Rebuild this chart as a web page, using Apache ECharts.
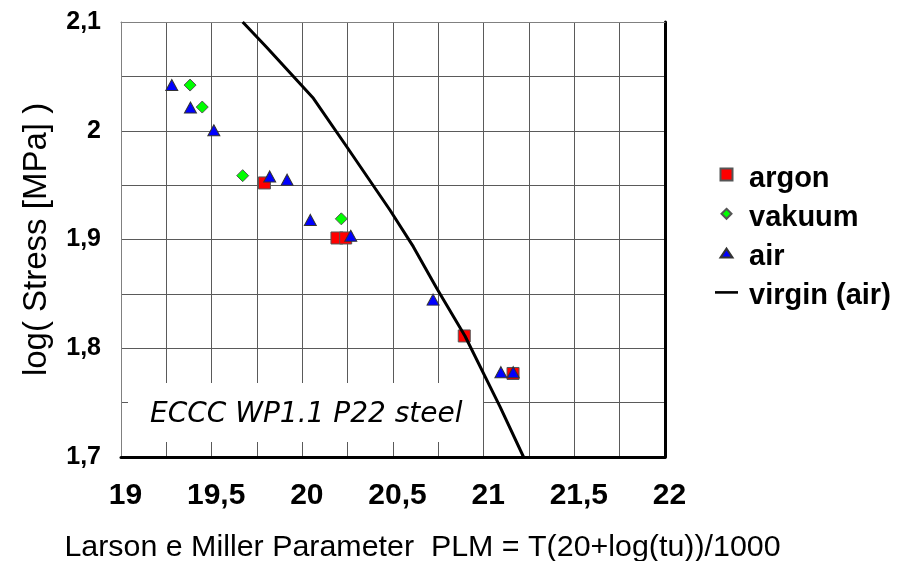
<!DOCTYPE html>
<html><head><meta charset="utf-8">
<script src="https://cdn.jsdelivr.net/npm/echarts@6/dist/echarts.min.js"></script>
<style>html,body{margin:0;padding:0;background:#fff}#c{width:913px;height:561px}</style>
</head><body><div id="c"></div>
<script>
// ---- data ----
const argonX = [19.791, 20.191, 20.239, 20.893, 21.162];
const argonY = [1.952, 1.9014, 1.9014, 1.8113, 1.7768];
const vakuumX = [19.381, 19.448, 19.671, 20.215];
const vakuumY = [2.042, 2.0218, 1.9587, 1.919];
const airX = [19.28, 19.383, 19.512, 19.82, 19.916, 20.044, 20.267, 20.721, 21.095, 21.163];
const airY = [2.042, 2.0214, 2.0005, 1.958, 1.955, 1.918, 1.9034, 1.8447, 1.778, 1.778];
const virginX = [19.671, 19.803, 20.061, 20.245, 20.483, 20.612, 20.741, 20.897, 21.09, 21.22];
const virginY = [2.1, 2.0767, 2.0298, 1.9853, 1.9271, 1.8934, 1.8551, 1.8113, 1.7463, 1.7];
const xTickLabels = ['19', '19,5', '20', '20,5', '21', '21,5', '22'];
const yTickLabels = ['1,7', '1,8', '1,9', '2', '2,1'];
const seriesNames = ['argon', 'vakuum', 'air', 'virgin (air)'];
const xTitle = 'Larson e Miller Parameter  PLM = T(20+log(tu))/1000';
const yTitle = 'log( Stress [MPa] )';
const noteText = 'ECCC WP1.1 P22 steel';

const zip = (a, b) => a.map((v, i) => [v, b[i]]);
const FONT = '"Liberation Sans", Arial, Helvetica, sans-serif';
const XMIN = 19, XMAX = 22, YMIN = 1.7, YMAX = 2.1;

function xLabel(v) {
  const k = (v - XMIN) / 0.5;
  if (Math.abs(k - Math.round(k)) > 1e-6) return '';
  return xTickLabels[Math.round(k)] || '';
}
function yLabel(v) {
  const k = (v - YMIN) / 0.1;
  if (Math.abs(k - Math.round(k)) > 1e-6) return '';
  return yTickLabels[Math.round(k)] || '';
}

const chart = echarts.init(document.getElementById('c'), null, {renderer: 'canvas'});
chart.setOption({
  animation: false,
  backgroundColor: '#fff',
  grid: {left: 121, right: 248, top: 22, bottom: 104, containLabel: false, outerBoundsMode: 'none'},
  xAxis: [{
    type: 'value', min: XMIN, max: XMAX, interval: 0.25,
    axisLine: {show: true, onZero: false, lineStyle: {color: '#000', width: 3}},
    axisTick: {show: false},
    splitLine: {show: true, lineStyle: {color: '#5a5a5a', width: 1}},
    axisLabel: {formatter: xLabel, fontSize: 30, fontWeight: 'bold', color: '#000', fontFamily: FONT, margin: 24, padding: [0, 0, 0, 9], showMinLabel: true, showMaxLabel: true},
    name: xTitle, nameLocation: 'middle', nameGap: 76,
    nameTextStyle: {fontSize: 30.4, color: '#000', fontFamily: FONT, padding: [0, 0, 0, 59]}
  }, {
    type: 'value', min: XMIN, max: XMAX, position: 'top',
    axisLine: {show: true, onZero: false, lineStyle: {color: '#808080', width: 1}},
    axisTick: {show: false}, axisLabel: {show: false}, splitLine: {show: false}
  }],
  yAxis: [{
    type: 'value', min: YMIN, max: YMAX, interval: 0.05,
    axisLine: {show: true, onZero: false, lineStyle: {color: '#808080', width: 1}},
    axisTick: {show: false},
    splitLine: {show: true, lineStyle: {color: '#5a5a5a', width: 1}},
    axisLabel: {formatter: yLabel, fontSize: 25, fontWeight: 'bold', color: '#000', fontFamily: FONT, margin: 20, showMinLabel: true, showMaxLabel: true},
    name: yTitle, nameLocation: 'middle', nameGap: 68, nameRotate: 90,
    nameTextStyle: {fontSize: 33, color: '#000', fontFamily: FONT}
  }, {
    type: 'value', min: YMIN, max: YMAX, position: 'right',
    axisLine: {show: true, onZero: false, lineStyle: {color: '#000', width: 3}},
    axisTick: {show: false}, axisLabel: {show: false}, splitLine: {show: false}
  }],
  legend: {
    orient: 'vertical', left: 710, top: 159, itemWidth: 23, itemHeight: 20, itemGap: 10.3,
    textStyle: {fontSize: 29, fontWeight: 'bold', color: '#000', fontFamily: FONT, padding: [0, 0, 0, 6]},
    data: [
      {name: seriesNames[0], icon: 'path://M0,0M12,20M0,0L12,0L12,12L0,12Z'},
      {name: seriesNames[1], icon: 'path://M0,0M12,20M6,1L11,6L6,11L1,6Z'},
      {name: seriesNames[2], icon: 'path://M0,0M12,20M6,1.5L12,10.5L0,10.5Z'},
      {name: seriesNames[3], icon: 'path://M0,0M23,20M0,4.7L23,4.7L23,7.3L0,7.3Z', itemStyle: {color: '#000', borderWidth: 0}}
    ]
  },
  series: [
    {name: seriesNames[0], type: 'scatter', symbol: 'rect', symbolSize: 12, data: zip(argonX, argonY),
     itemStyle: {color: '#ff0000', borderColor: '#555', borderWidth: 1, opacity: 1}, emphasis: {disabled: true}},
    {name: seriesNames[1], type: 'scatter', symbol: 'diamond', symbolSize: 12, data: zip(vakuumX, vakuumY),
     itemStyle: {color: '#00ff00', borderColor: '#555', borderWidth: 1, opacity: 1}, emphasis: {disabled: true}},
    {name: seriesNames[2], type: 'scatter', symbol: 'triangle', symbolSize: [12, 11], data: zip(airX, airY),
     itemStyle: {color: '#0000ff', borderColor: '#333', borderWidth: 1, opacity: 1}, emphasis: {disabled: true}},
    {name: seriesNames[3], type: 'line', symbol: 'none', data: zip(virginX, virginY), clip: true,
     lineStyle: {color: '#000', width: 3}, itemStyle: {color: '#000'}, emphasis: {disabled: true}}
  ],
  graphic: [
    {type: 'rect', z: 100, shape: {x: 128, y: 383, width: 355, height: 59}, style: {fill: '#fff'}},
    {type: 'text', z: 101, x: 150, y: 415, style: {text: noteText, fontSize: 28, fontStyle: 'italic', fontFamily: '"DejaVu Sans", Verdana, sans-serif', fill: '#000', verticalAlign: 'middle'}}
  ]
});
</script>
</body></html>
